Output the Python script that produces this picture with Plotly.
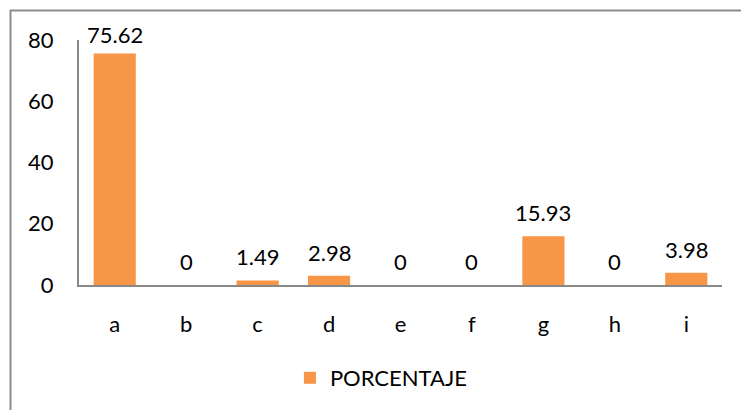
import plotly.graph_objects as go

categories = ["a", "b", "c", "d", "e", "f", "g", "h", "i"]
porcentaje = [75.62, 0, 1.49, 2.98, 0, 0, 15.93, 0, 3.98]
y_ticks = [0, 20, 40, 60, 80]

BAR_COLOR = "#F79646"
AXIS_COLOR = "#888888"
FONT = "Lato"
FSIZE = 22

fig = go.Figure()
fig.add_trace(go.Bar(
    x=categories,
    y=porcentaje,
    name="PORCENTAJE",
    marker=dict(color=BAR_COLOR, line=dict(width=0)),
))

# value labels above each bar, kept inside the top of the plot area
for c, v in zip(categories, porcentaje):
    fig.add_annotation(
        x=c, y=v, text=f"{v:g}", showarrow=False,
        xanchor="center", yanchor="bottom", yshift=8 if v < 70 else 3,
        font=dict(family=FONT, size=FSIZE, color="#000000"),
    )

# outer chart border
fig.add_shape(
    type="rect", xref="paper", yref="paper",
    x0=-0.1065, x1=1.3, y0=-1.0, y1=1.12,
    line=dict(color="#8c8c8c", width=2), fillcolor="rgba(0,0,0,0)", layer="below",
)

fig.update_layout(
    width=741, height=410,
    margin=dict(l=79, r=19, t=40, b=124),
    paper_bgcolor="white", plot_bgcolor="white",
    bargap=0.41,
    font=dict(family=FONT, size=FSIZE, color="#000000"),
    showlegend=True,
    legend=dict(
        orientation="h", x=0.328, y=-0.374, xanchor="left", yanchor="middle",
        font=dict(family=FONT, size=FSIZE), bgcolor="rgba(0,0,0,0)",
    ),
    xaxis=dict(
        showline=True, linecolor=AXIS_COLOR, linewidth=2,
        ticks="", showgrid=False, zeroline=False,
        ticklabelstandoff=19,
    ),
    yaxis=dict(
        range=[0, 80], tickvals=y_ticks,
        showline=True, linecolor=AXIS_COLOR, linewidth=2,
        ticks="", showgrid=False, zeroline=False,
        ticklabelstandoff=19,
    ),
)

fig.write_html("out.html")
